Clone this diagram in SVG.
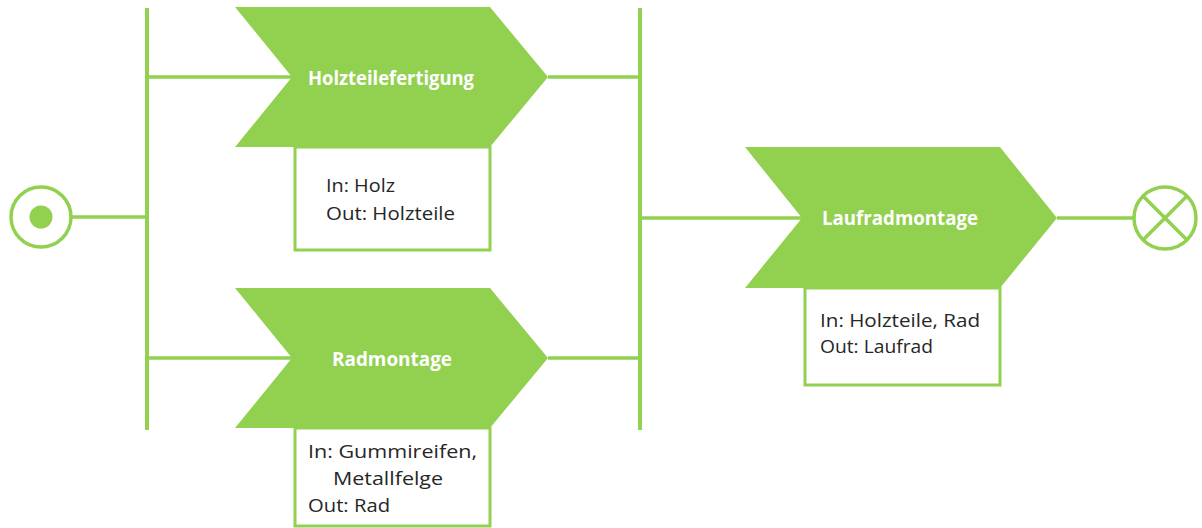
<svg xmlns="http://www.w3.org/2000/svg" width="1202" height="528" viewBox="0 0 1202 528">
<style>
.ln{stroke:#92D050;stroke-width:3.5;fill:none}
.bar{stroke:#92D050;stroke-width:4;fill:none}
.chev{fill:#92D050}
.box{fill:#ffffff;stroke:#92D050;stroke-width:3}
.t{font-family:"Open Sans","Liberation Sans",sans-serif;font-weight:bold;font-size:19px;fill:#ffffff;text-anchor:middle}
.b{font-family:"Open Sans","Liberation Sans",sans-serif;font-size:18px;fill:#262626}
</style>
<rect width="1202" height="528" fill="#ffffff"/>
<g id="connectors">
<line class="bar" x1="147" y1="8" x2="147" y2="430"/>
<line class="bar" x1="640" y1="8" x2="640" y2="430"/>
<line class="ln" x1="72" y1="217" x2="147" y2="217"/>
<line class="ln" x1="147" y1="77" x2="292" y2="77"/>
<line class="ln" x1="147" y1="358" x2="292" y2="358"/>
<line class="ln" x1="548" y1="77" x2="640" y2="77"/>
<line class="ln" x1="548" y1="358" x2="640" y2="358"/>
<line class="ln" x1="640" y1="218" x2="802" y2="218"/>
<line class="ln" x1="1057" y1="218" x2="1134" y2="218"/>
</g>
<g id="start">
<circle cx="41" cy="217" r="30" fill="#ffffff" stroke="#92D050" stroke-width="3.5"/>
<circle cx="41" cy="217" r="11.5" fill="#92D050"/>
</g>
<g id="holzteilefertigung">
<rect class="box" x="295" y="147" width="195" height="103"/>
<polygon class="chev" points="235,7 490,7 548,77 490,147 235,147 292,77"/>
<text class="t" x="391" y="85" textLength="166" lengthAdjust="spacingAndGlyphs">Holzteilefertigung</text>
<text class="b" x="326" y="192" textLength="69" lengthAdjust="spacingAndGlyphs">In: Holz</text>
<text class="b" x="326" y="220" textLength="129" lengthAdjust="spacingAndGlyphs">Out: Holzteile</text>
</g>
<g id="radmontage">
<rect class="box" x="295" y="428" width="195" height="98"/>
<polygon class="chev" points="235,288 490,288 548,358 490,428 235,428 292,358"/>
<text class="t" x="392" y="366" textLength="120" lengthAdjust="spacingAndGlyphs">Radmontage</text>
<text class="b" x="308" y="458" textLength="169" lengthAdjust="spacingAndGlyphs">In: Gummireifen,</text>
<text class="b" x="333" y="485" textLength="110" lengthAdjust="spacingAndGlyphs">Metallfelge</text>
<text class="b" x="308" y="512" textLength="82" lengthAdjust="spacingAndGlyphs">Out: Rad</text>
</g>
<g id="laufradmontage">
<rect class="box" x="805" y="288" width="195" height="97"/>
<polygon class="chev" points="745,147 1000,147 1057,218 1000,288 745,288 802,218"/>
<text class="t" x="900" y="225" textLength="156" lengthAdjust="spacingAndGlyphs">Laufradmontage</text>
<text class="b" x="820" y="327" textLength="160" lengthAdjust="spacingAndGlyphs">In: Holzteile, Rad</text>
<text class="b" x="820" y="353" textLength="113" lengthAdjust="spacingAndGlyphs">Out: Laufrad</text>
</g>
<g id="end">
<circle cx="1165" cy="218" r="31" fill="#ffffff" stroke="#92D050" stroke-width="3.5"/>
<line class="ln" x1="1143" y1="196" x2="1187" y2="240"/>
<line class="ln" x1="1187" y1="196" x2="1143" y2="240"/>
</g>
</svg>
